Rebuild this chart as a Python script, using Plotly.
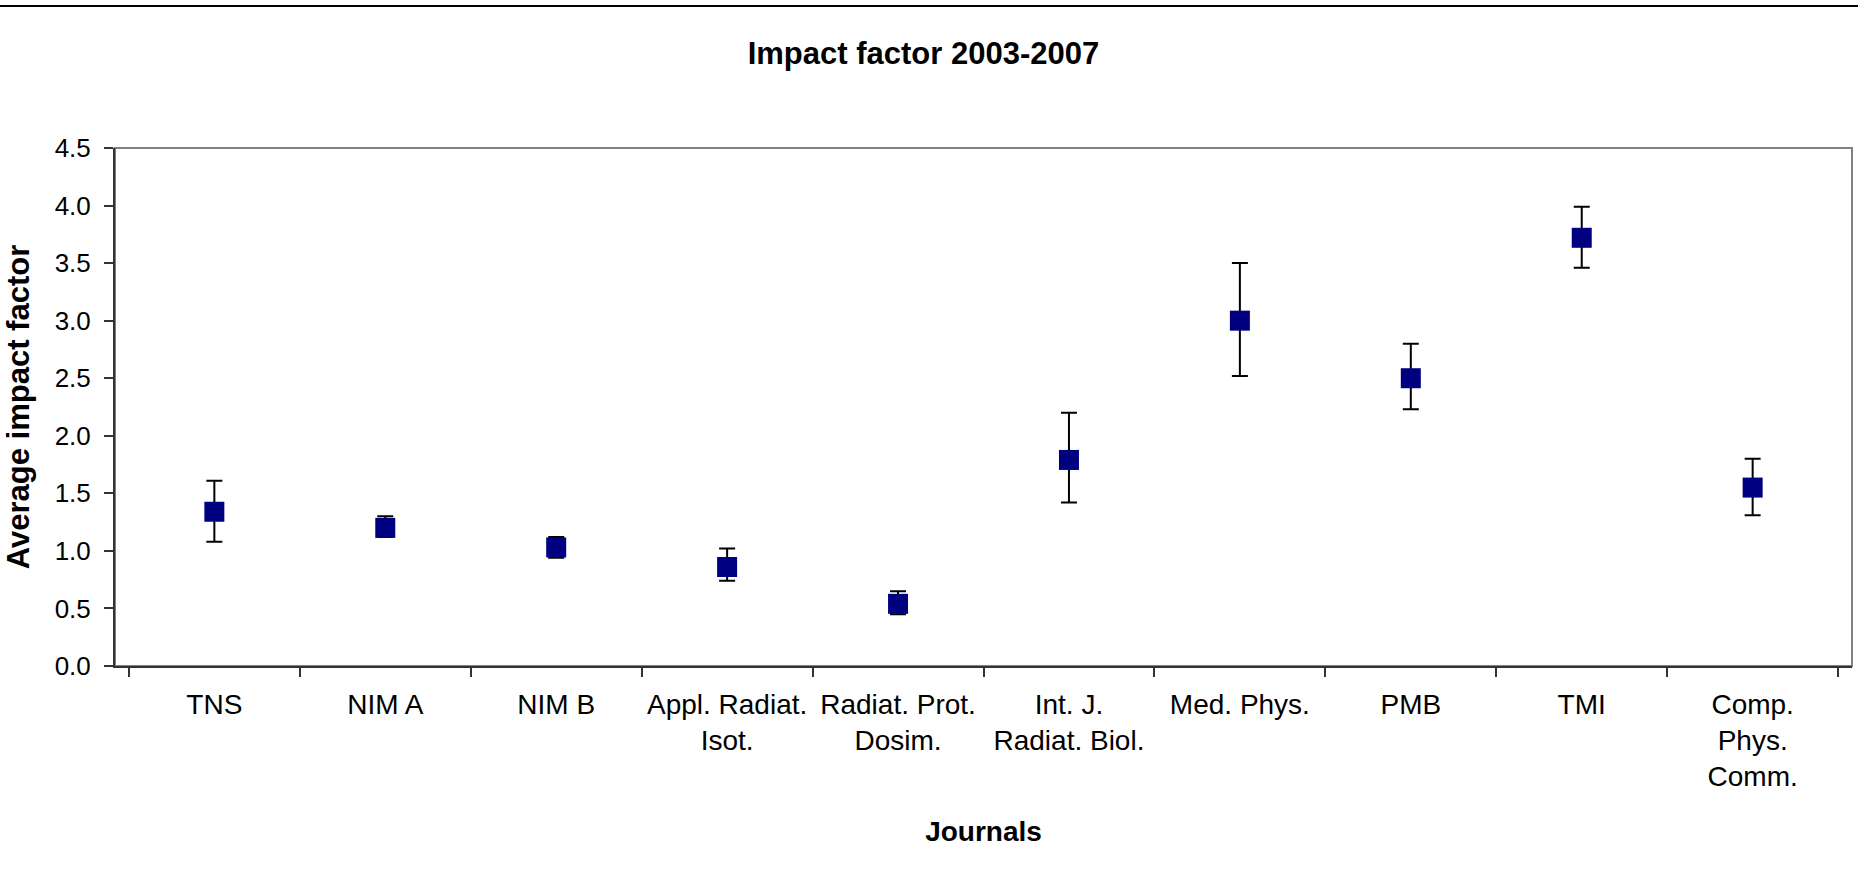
import plotly.graph_objects as go

journals = ["TNS", "NIM A", "NIM B", "Appl. Radiat.<br>Isot.", "Radiat. Prot.<br>Dosim.",
            "Int. J.<br>Radiat. Biol.", "Med. Phys.", "PMB", "TMI", "Comp.<br>Phys.<br>Comm."]
avg_if = [1.34, 1.20, 1.03, 0.86, 0.54, 1.79, 3.00, 2.50, 3.72, 1.55]
upper = [1.61, 1.30, 1.12, 1.02, 0.65, 2.20, 3.50, 2.80, 3.99, 1.80]
lower = [1.08, 1.12, 0.94, 0.74, 0.45, 1.42, 2.52, 2.23, 3.46, 1.31]

err_plus = [u - v for u, v in zip(upper, avg_if)]
err_minus = [v - l for v, l in zip(avg_if, lower)]

FONT = "Liberation Sans, Arial, sans-serif"
W, H = 1858, 872
L, R, T, B = 115, 1852, 148, 666

fig = go.Figure()
fig.add_trace(go.Scatter(
    x=journals, y=avg_if, mode="markers",
    marker=dict(symbol="square", size=20, color="#000080", line=dict(width=0)),
    error_y=dict(type="data", symmetric=False, array=err_plus, arrayminus=err_minus,
                 color="black", thickness=2, width=8),
    showlegend=False,
))

fig.update_layout(
    width=W, height=H,
    margin=dict(l=L, r=W - R, t=T, b=H - B, autoexpand=False),
    paper_bgcolor="white", plot_bgcolor="white",
    font=dict(family=FONT, color="black", size=27),
    title=dict(text="<b>Impact factor 2003-2007</b>", x=0.497, xref="container",
               y=1 - 53 / H, yref="container", yanchor="middle", xanchor="center",
               font=dict(size=31, family=FONT, color="black")),
    xaxis=dict(type="category", tickson="boundaries", ticks="outside", ticklen=9,
               tickcolor="#333", tickwidth=2, showline=True, linecolor="#333", linewidth=2,
               showgrid=False, zeroline=False, tickfont=dict(size=28), ticklabelstandoff=12,
               title=dict(text="<b>Journals</b>", font=dict(size=28), standoff=30)),
    yaxis=dict(range=[0, 4.5], dtick=0.5, tick0=0, tickformat=".1f", ticks="outside", ticklen=9,
               tickcolor="#333", tickwidth=2, showline=True, linecolor="#333", linewidth=2,
               showgrid=False, zeroline=False, tickfont=dict(size=26), ticklabelstandoff=8,
               title=dict(text="<b>Average impact factor</b>", font=dict(size=31), standoff=16)),
    shapes=[
        dict(type="rect", xref="paper", yref="paper", x0=0, x1=1, y0=0, y1=1,
             line=dict(color="#808080", width=2), layer="below"),
        dict(type="line", xref="paper", yref="paper", x0=-L / (R - L), x1=(W - L) / (R - L),
             y0=(B - 6) / (B - T), y1=(B - 6) / (B - T), line=dict(color="black", width=2)),
    ],
)

fig.write_html("out.html", config={"displayModeBar": False},
               post_script="document.body.style.margin='0';document.body.style.overflow='hidden';")
